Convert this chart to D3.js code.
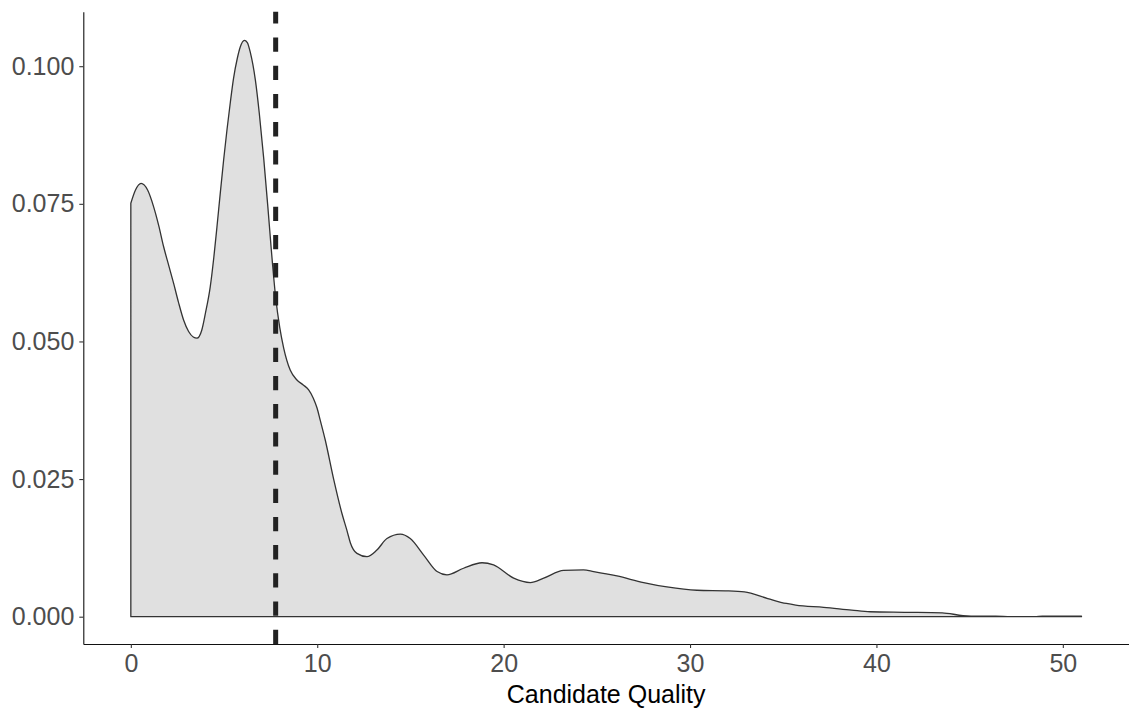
<!DOCTYPE html>
<html>
<head>
<meta charset="utf-8">
<script src="https://cdn.jsdelivr.net/npm/d3@7"></script>
<style>
  html, body { margin: 0; padding: 0; background: #fff; }
  svg { display: block; }
</style>
</head>
<body>
<svg id="chart" width="1129" height="711"></svg>
<script>
// ---- data ----
const quality = [0, 0.25, 0.55, 0.9, 1.22, 1.5, 1.76, 2.05, 2.3, 2.55, 2.83, 3.1, 3.35, 3.55, 3.8, 4.0, 4.26, 4.45, 4.62, 4.8, 4.98, 5.16, 5.34, 5.51, 5.71, 5.87, 6.09, 6.25, 6.41, 6.68, 6.89, 7.13, 7.35, 7.54, 7.77, 7.99, 8.2, 8.55, 8.91, 9.25, 9.54, 9.79, 9.99, 10.16, 10.43, 10.88, 11.33, 11.6, 11.78, 12.13, 12.67, 13.2, 13.74, 14.46, 14.99, 15.71, 16.43, 16.96, 17.85, 18.84, 19.46, 20.54, 21.43, 22.15, 23.22, 24.28, 24.83, 26.08, 27.51, 28.76, 30.37, 32.05, 32.92, 34.17, 35.17, 35.67, 37.17, 38.67, 39.66, 41.5, 43.53, 44.65, 45.5, 46.4, 47.2, 48.5, 48.9, 51.0];
const density = [0.0751, 0.0775, 0.0787, 0.0775, 0.0745, 0.0710, 0.0672, 0.0636, 0.0605, 0.0572, 0.0539, 0.0518, 0.0508, 0.0506, 0.0520, 0.0551, 0.0599, 0.0652, 0.0708, 0.0770, 0.0830, 0.0885, 0.0935, 0.0978, 0.1014, 0.1035, 0.1047, 0.1043, 0.1025, 0.0975, 0.0915, 0.0832, 0.0745, 0.0665, 0.0580, 0.0525, 0.0488, 0.0448, 0.0430, 0.0421, 0.0412, 0.0397, 0.0379, 0.0357, 0.0321, 0.0250, 0.0187, 0.0156, 0.0134, 0.0115, 0.0109, 0.0121, 0.0142, 0.0150, 0.0142, 0.0112, 0.0082, 0.0076, 0.0088, 0.0098, 0.0094, 0.0070, 0.0062, 0.0070, 0.0084, 0.0085, 0.0082, 0.0074, 0.0062, 0.0054, 0.0048, 0.0047, 0.0045, 0.0033, 0.0024, 0.0021, 0.0017, 0.0012, 0.0009, 0.0008, 0.0007, 0.0002, 0.0001, 0.0001, 0.0, 0.0, 0.0001, 0.0001];
const cutoff = 7.77;
const xTicks = [0, 10, 20, 30, 40, 50];
const yTicks = [0, 0.025, 0.05, 0.075, 0.1];
const xTitle = "Candidate Quality";

// ---- layout ----
const padL = 83.3, padR = 1129, padT = 11.7, padB = 644;
const FONT = "'Liberation Sans', Arial, Helvetica, sans-serif";

const svg = d3.select("#chart");
const x = d3.scaleLinear().domain([-2.55, 53.55]).range([padL, padR]);
const y = d3.scaleLinear().domain([-0.00496, 0.1099]).range([padB, padT]);

const pts = quality.map((q, i) => ({ q: q, d: density[i] }));

// density area (full outline like ggplot's older geom_density)
const upper = d3.line().x(p => x(p.q)).y(p => y(p.d)).curve(d3.curveMonotoneX);
const first = pts[0], last = pts[pts.length - 1];
const pathD = "M" + x(first.q) + "," + y(0) + "L" + upper(pts).slice(1) +
  "L" + x(last.q) + "," + y(0) + "Z";

svg.append("path")
  .attr("d", pathD)
  .attr("fill", "#e0e0e0")
  .attr("stroke", "#333333")
  .attr("stroke-width", 1.3)
  .attr("stroke-linejoin", "round");

// dashed cutoff line
svg.append("line")
  .attr("x1", x(cutoff)).attr("x2", x(cutoff))
  .attr("y1", padB).attr("y2", padT)
  .attr("stroke", "#222222")
  .attr("stroke-width", 5)
  .attr("stroke-dasharray", "14.3,13.9");

// axes
const xAxis = d3.axisBottom(x).tickValues(xTicks).tickFormat(d3.format("d"))
  .tickSize(4).tickSizeOuter(0).tickPadding(6);
const yAxis = d3.axisLeft(y).tickValues(yTicks).tickFormat(d3.format(".3f"))
  .tickSize(4).tickSizeOuter(0).tickPadding(5);

const gx = svg.append("g").attr("transform", `translate(0,${padB})`).call(xAxis);
const gy = svg.append("g").attr("transform", `translate(${padL},0)`).call(yAxis);

[gx, gy].forEach(g => {
  g.select(".domain").attr("stroke", "#111").attr("stroke-width", 1.1);
  g.selectAll(".tick line").attr("stroke", "#333").attr("stroke-width", 1.1);
  g.selectAll(".tick text")
    .attr("fill", "#4d4d4d")
    .style("font-family", FONT)
    .style("font-size", "25px");
});

// axis title
svg.append("text")
  .attr("x", (padL + padR) / 2)
  .attr("y", 703)
  .attr("text-anchor", "middle")
  .attr("fill", "#000")
  .style("font-family", FONT)
  .style("font-size", "25px")
  .text(xTitle);
</script>
</body>
</html>
